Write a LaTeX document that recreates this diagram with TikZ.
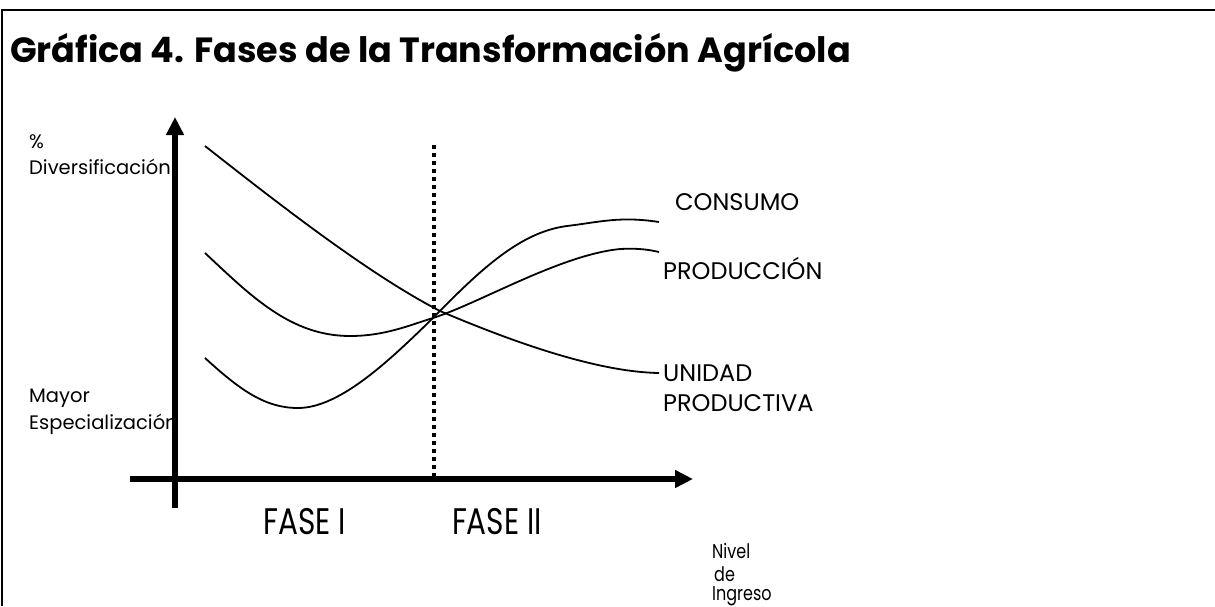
\documentclass[tikz,border=0pt]{standalone}
\usepackage{fontspec}
\setmainfont{Poppins}
\usepackage{tikz}
\usetikzlibrary{arrows.meta}

\begin{document}
\begin{tikzpicture}[x=1pt, y=-1pt,
  axis/.style={line width=5.5pt, -{Triangle[length=18pt,width=17pt]}},
  curve/.style={line width=1.8pt},
  lbl/.style={font=\fontsize{24}{26}\selectfont, inner sep=0pt, align=left},
  side/.style={font=\fontsize{19.5}{22}\selectfont, inner sep=0pt, anchor=west},
  small/.style={font=\fontsize{20}{21.5}\selectfont\addfontfeatures{FakeStretch=0.8}, inner sep=0pt, anchor=west},
  fase/.style={font=\fontsize{37}{40}\selectfont\addfontfeatures{FakeStretch=0.8}, inner sep=0pt}]
\useasboundingbox (0, 0) rectangle (1215, 606);
% frame
\draw [line width=1.6pt] (1215, 10) -- (2, 10) -- (2, 606);
\node (title) at (10, 53) [anchor=west, inner sep=0pt]
  {\fontsize{35}{40}\selectfont\bfseries Gráfica 4. Fases de la Transformación Agrícola};
% axes
\coordinate (ybot) at (175, 508);
\coordinate (ytop) at (175, 117);
\coordinate (xleft) at (130, 479);
\coordinate (xright) at (693, 479);
\draw [axis] (ybot) -- (ytop);
\draw [axis] (xleft) -- (xright);
% phase limit
\coordinate (limtop) at (434, 145);
\coordinate (limbot) at (434, 477);
\draw [line width=4pt, dash pattern=on 4pt off 4pt] (limtop) -- (limbot);
% curves
\coordinate (uend) at (659, 373);
\coordinate (pend) at (659, 252);
\coordinate (cend) at (659, 222);
\draw [curve] (205, 146) .. controls (280, 205) and (370, 275) .. (440, 311)
  .. controls (520, 345) and (600, 372) .. (uend);
\draw [curve] (205, 253) .. controls (250, 295) and (290, 336) .. (350, 336)
  .. controls (385, 336) and (410, 325) .. (433, 318)
  .. controls (480, 303) and (560, 255) .. (620, 249)
  .. controls (640, 248) and (650, 250) .. (pend);
\draw [curve] (205, 358) .. controls (240, 390) and (265, 408) .. (298, 408)
  .. controls (340, 408) and (390, 360) .. (433, 318)
  .. controls (480, 270) and (520, 232) .. (567, 226)
  .. controls (600, 222) and (620, 216) .. (cend);
% labels
\node (consumo) at (675, 202) [lbl, anchor=west] {CONSUMO};
\node (produccion) at (663, 268) [lbl, anchor=west] {PRODUCCIÓN};
\node (unidad) at (663, 373) [lbl, anchor=west] {UNIDAD};
\node (productiva) at (663, 403) [lbl, anchor=west] {PRODUCTIVA};
\node (pct) at (29, 142) [side] {\%};
\node (divers) at (29, 167) [side] {Diversificación};
\node (mayor) at (29, 398) [side] {Mayor};
\node (especial) at (29, 424) [side] {Especialización};
\node (fase1) at (305, 522) [fase] {FASE I};
\node (fase2) at (497, 522) [fase] {FASE II};
\node (nivel) at (712, 551) [small] {Nivel};
\node (de) at (714, 574) [small] {de};
\node (ingreso) at (712, 596) [small] {Ingreso};
\end{tikzpicture}
\end{document}
